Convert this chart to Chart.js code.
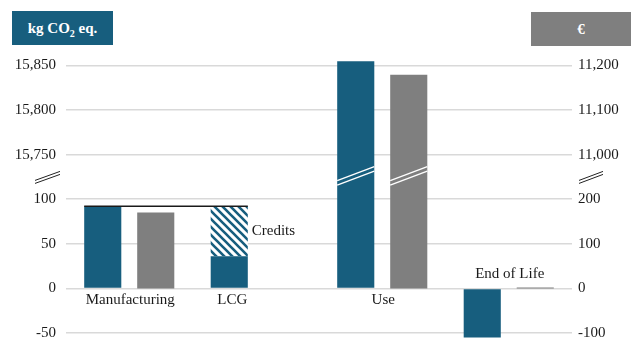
<!DOCTYPE html>
<html>
<head>
<meta charset="utf-8">
<script src="https://cdn.jsdelivr.net/npm/chart.js"></script>
<style>
  body { margin: 0; background: #fff; }
  #wrap { position: relative; width: 631px; height: 340px; }
  .unit { position: absolute; height: 34px; text-align: center; color: #fff;
          font: bold 15px "Liberation Serif", serif; line-height: 34px; }
  .unit sub { font-size: 10px; line-height: 0; }
  #kg { left: 12px; top: 11px; width: 101px; background: #175e7e; }
  #eur { left: 531px; top: 12px; width: 100px; background: #7f7f7f; }
</style>
</head>
<body>
<div id="wrap">
  <canvas id="chart" width="631" height="340"></canvas>
  <div class="unit" id="kg">kg CO<sub>2</sub> eq.</div>
  <div class="unit" id="eur">€</div>
</div>
<script>
/* global Chart */

var categories = ['Manufacturing', 'LCG', 'Use', 'End of Life'];
var co2Values = [92, 36, 15854.5, -55];      // kg CO2 eq.
var creditValues = [null, 56, null, null];   // kg CO2 eq. credited on top of LCG
var costValues = [170, null, 11179, 2];      // €
var co2Ticks = [-50, 0, 50, 100, 15750, 15800, 15850];
var costTicks = [-100, 0, 100, 200, 11000, 11100, 11200];

(function () {

    var BLUE = '#175e7e';
    var GREY = '#7f7f7f';
    var BREAK_AT = 125;   // axis value where the broken axis jumps

    // broken axis: lower part as is, upper part shifted down
    var co2ToAxis = function (v) {
        return v > BREAK_AT ? v - 15600 : v;
    };
    var costToAxis = function (v) {
        if (v === null) return null;
        return v > BREAK_AT * 2 ? v - 10700 : v;
    };

    var hatch = (function () {
        var tile = document.createElement('canvas');
        tile.width = 8;
        tile.height = 8;
        var g = tile.getContext('2d');
        g.fillStyle = '#fff';
        g.fillRect(0, 0, 8, 8);
        g.strokeStyle = BLUE;
        g.lineWidth = 2.6;
        g.beginPath();
        g.moveTo(-2, -2); g.lineTo(10, 10);
        g.moveTo(-2, 6); g.lineTo(2, 10);
        g.moveTo(6, -2); g.lineTo(10, 2);
        g.stroke();
        return g.createPattern(tile, 'repeat');
    })();

    var fixAxis = function (width) {
        return function (scale) {
            scale.width = width;
            scale.paddingTop = 0;
            scale.paddingBottom = 0;
        };
    };

    var tickFont = { family: 'Liberation Serif', size: 15 };

    var overlay = {
        id: 'overlay',
        afterDatasetsDraw: function (chart) {
            var ctx = chart.ctx;
            var area = chart.chartArea;
            var y = chart.scales.y;
            var x = chart.scales.x;
            var breakY = y.getPixelForValue(BREAK_AT);
            var blue = chart.getDatasetMeta(0).data;
            var credit = chart.getDatasetMeta(1).data;
            var grey = chart.getDatasetMeta(2).data;

            ctx.save();

            // white slashes where bars run through the break
            ctx.strokeStyle = '#fff';
            ctx.lineWidth = 1.4;
            [blue, grey].forEach(function (bars) {
                bars.forEach(function (bar) {
                    if (!bar || isNaN(bar.y) || Math.min(bar.y, bar.base) >= breakY) return;
                    var l = bar.x - bar.width / 2, r = bar.x + bar.width / 2;
                    [-2.2, 2.2].forEach(function (d) {
                        ctx.beginPath();
                        ctx.moveTo(l, breakY + 6 + d);
                        ctx.lineTo(r, breakY - 8 + d);
                        ctx.stroke();
                    });
                });
            });

            // break marks next to both axes
            ctx.strokeStyle = '#222';
            ctx.lineWidth = 1;
            [[area.left - 31, area.left - 6], [area.right + 7, area.right + 31]].forEach(function (seg) {
                [-1.5, 1.5].forEach(function (d) {
                    ctx.beginPath();
                    ctx.moveTo(seg[0], breakY + 5 + d);
                    ctx.lineTo(seg[1], breakY - 4 + d);
                    ctx.stroke();
                });
            });

            // line from Manufacturing top to LCG top before credits
            var lcg = credit[1];
            ctx.strokeStyle = '#1a1a1a';
            ctx.lineWidth = 1.5;
            ctx.beginPath();
            ctx.moveTo(blue[0].x - blue[0].width / 2, lcg.y);
            ctx.lineTo(lcg.x + lcg.width / 2, lcg.y);
            ctx.stroke();

            // category names next to the zero line
            var zero = y.getPixelForValue(0);
            ctx.font = '15px "Liberation Serif"';
            ctx.fillStyle = '#1a1a1a';
            ctx.textBaseline = 'middle';
            ctx.textAlign = 'center';
            categories.forEach(function (name, i) {
                var cx = creditValues[i] !== null ? blue[i].x + 3 : x.getPixelForValue(i) + 1;
                var cy = co2Values[i] < 0 ? zero - 14 : zero + 12;
                ctx.fillText(name, cx, cy);
            });

            ctx.textAlign = 'left';
            ctx.fillText('Credits', lcg.x + lcg.width / 2 + 4, (lcg.y + lcg.base) / 2);

            ctx.restore();
        }
    };

    new Chart(document.getElementById('chart'), {
        type: 'bar',
        data: {
            labels: categories,
            datasets: [{
                label: 'kg CO2 eq.',
                data: co2Values.map(co2ToAxis),
                backgroundColor: BLUE,
                stack: 'co2',
                yAxisID: 'y',
                categoryPercentage: 0.838,
                barPercentage: 0.7
            }, {
                label: 'Credits',
                data: creditValues,
                backgroundColor: hatch,
                stack: 'co2',
                yAxisID: 'y',
                categoryPercentage: 0.838,
                barPercentage: 0.7
            }, {
                label: '€',
                data: costValues.map(costToAxis),
                backgroundColor: GREY,
                stack: 'cost',
                yAxisID: 'y2',
                categoryPercentage: 0.838,
                barPercentage: 0.7
            }]
        },
        options: {
            responsive: false,
            animation: false,
            layout: { padding: { top: 52, left: 0, right: 0, bottom: 0 } },
            plugins: {
                legend: { display: false },
                tooltip: { enabled: false }
            },
            scales: {
                x: { display: false },
                y: {
                    position: 'left',
                    stacked: true,
                    min: -57.8,
                    max: 265,
                    afterFit: fixAxis(66),
                    afterBuildTicks: function (scale) {
                        scale.ticks = co2Ticks.map(function (v) { return { value: co2ToAxis(v) }; });
                    },
                    grid: { color: '#d9d9d9', lineWidth: 1.5, drawTicks: false },
                    border: { display: false },
                    ticks: {
                        padding: 10,
                        color: '#1a1a1a',
                        font: tickFont,
                        autoSkip: false,
                        callback: function (value, i) {
                            return co2Ticks[i].toLocaleString('en-US');
                        }
                    }
                },
                y2: {
                    position: 'right',
                    min: -115.6,
                    max: 530,
                    afterFit: fixAxis(59),
                    afterBuildTicks: function (scale) {
                        scale.ticks = costTicks.map(function (v) { return { value: costToAxis(v) }; });
                    },
                    grid: { display: false, drawTicks: false },
                    border: { display: false },
                    ticks: {
                        padding: 6,
                        color: '#1a1a1a',
                        font: tickFont,
                        autoSkip: false,
                        callback: function (value, i) {
                            return costTicks[i].toLocaleString('en-US');
                        }
                    }
                }
            }
        },
        plugins: [overlay]
    });

})();
</script>
</body>
</html>
